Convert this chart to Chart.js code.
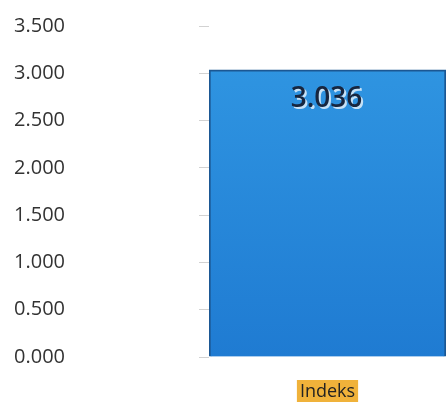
<!DOCTYPE html>
<html>
<head>
<meta charset="utf-8">
<script src="https://cdn.jsdelivr.net/npm/chart.js@4/dist/chart.umd.min.js"></script>
<style>
  html, body { margin: 0; padding: 0; background: #fff; }
  #wrap { width: 448px; height: 403px; }
</style>
</head>
<body>
<div id="wrap"><canvas id="chart"></canvas></div>
<script>
const categories = ['Indeks'];
const values = [3.036];
const yTicks = [0, 0.5, 1, 1.5, 2, 2.5, 3, 3.5];

// value label inside the top of each bar
const valueLabels = {
  id: 'valueLabels',
  afterDatasetsDraw(chart) {
    const ctx = chart.ctx;
    const meta = chart.getDatasetMeta(0);
    meta.data.forEach((bar, i) => {
      const txt = values[i].toFixed(3);
      ctx.save();
      ctx.font = '600 28px "Open Sans", sans-serif';
      ctx.textAlign = 'center';
      ctx.textBaseline = 'middle';
      ctx.fillStyle = 'rgba(225,238,250,0.85)';
      ctx.fillText(txt, bar.x + 1, bar.y + 31);
      ctx.fillStyle = '#17263f';
      ctx.fillText(txt, bar.x - 1, bar.y + 29);
      ctx.restore();
    });
  }
};

new Chart(document.getElementById('chart'), {
  type: 'bar',
  data: {
    labels: categories,
    datasets: [{
      data: values,
      backgroundColor: ctx => {
        const area = ctx.chart.chartArea;
        if (!area) return '#2a86d6';
        const g = ctx.chart.ctx.createLinearGradient(0, area.top, 0, area.bottom);
        g.addColorStop(0, '#3198e3');
        g.addColorStop(1, '#1f7bd2');
        return g;
      },
      borderColor: '#1b5793',
      borderWidth: 2,
      barPercentage: 1,
      categoryPercentage: 1
    }]
  },
  options: {
    responsive: true,
    maintainAspectRatio: false,
    animation: false,
    layout: { padding: { left: 14, right: 2, top: 26, bottom: 1 } },
    plugins: {
      legend: { display: false },
      tooltip: { enabled: false }
    },
    scales: {
      x: {
        afterFit: axis => { axis.height = 45; },
        grid: { display: false },
        border: { display: false },
        ticks: {
          color: '#222',
          font: { family: 'Open Sans', size: 18 },
          padding: 16,
          showLabelBackdrop: true,
          backdropColor: '#f0b23a',
          backdropPadding: { top: 1, bottom: 0, left: 3, right: 3 }
        }
      },
      y: {
        min: 0,
        max: 3.5,
        afterBuildTicks: axis => { axis.ticks = yTicks.map(v => ({ value: v })); },
        afterFit: axis => { axis.width = 195; },
        grid: { drawOnChartArea: false, tickLength: 10, color: '#d2d2d2' },
        border: { display: false },
        ticks: {
          color: '#333',
          font: { family: 'Open Sans', size: 20 },
          padding: 4,
          crossAlign: 'far',
          callback: v => v.toFixed(3)
        }
      }
    }
  },
  plugins: [valueLabels]
});
</script>
</body>
</html>
